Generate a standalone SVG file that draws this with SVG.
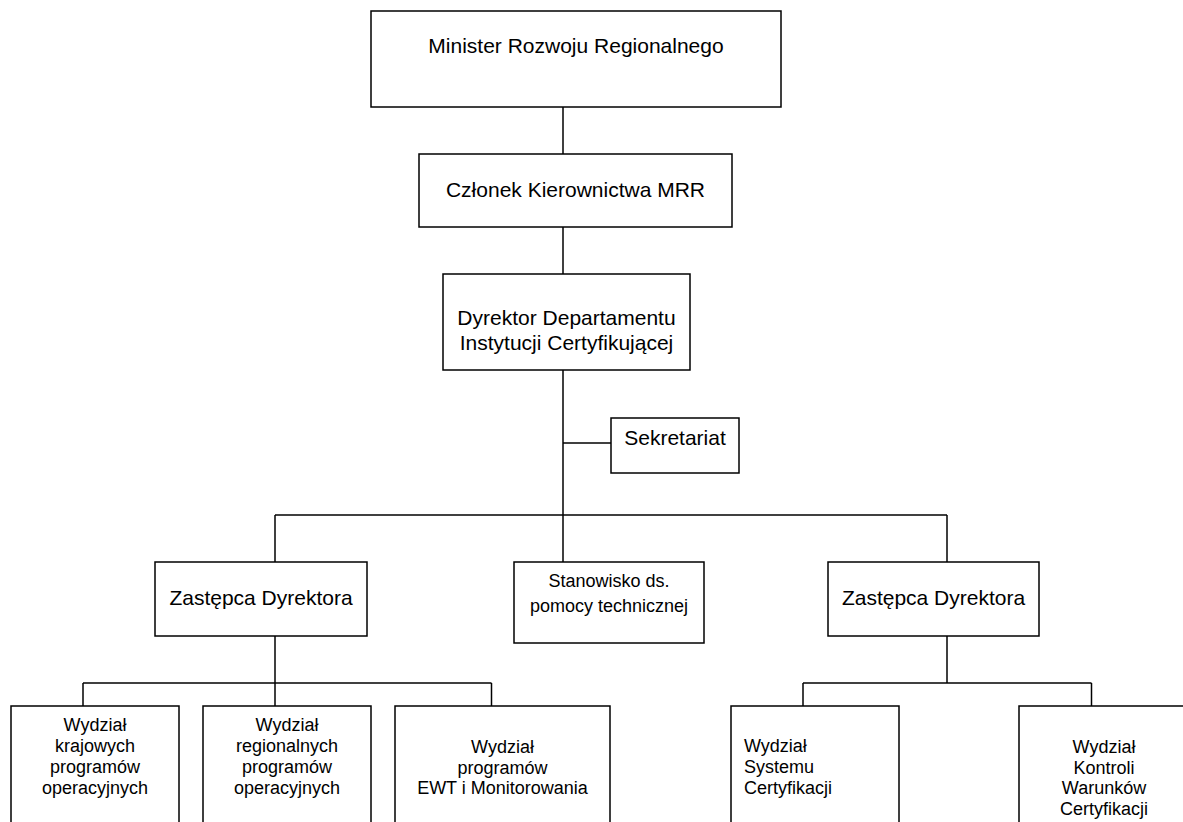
<svg xmlns="http://www.w3.org/2000/svg" width="1183" height="822" viewBox="0 0 1183 822">
<style>
.box{fill:#fff;stroke:#000;stroke-width:1.5}
.ln{fill:none;stroke:#000;stroke-width:1.5}
.t{font-family:"Liberation Sans",Arial,sans-serif;fill:#000;text-anchor:middle}
.big{font-size:21px}
.sm{font-size:18px}
</style>
<rect width="1183" height="822" fill="#fff"/>
<g id="connectors" class="ln">
<path d="M563,107V154"/>
<path d="M563,227V274"/>
<path d="M563,370V562"/>
<path d="M563,443H611"/>
<path d="M275,515H947"/>
<path d="M275,515V562"/>
<path d="M947,515V562"/>
<path d="M275,636V706"/>
<path d="M83,683H491.5"/>
<path d="M83,683V706"/>
<path d="M491.5,683V706"/>
<path d="M947,636V683"/>
<path d="M803,683H1091.5"/>
<path d="M803,683V706"/>
<path d="M1091.5,683V706"/>
</g>
<g id="minister">
<rect class="box" x="371" y="11" width="410" height="96"/>
<text class="t big" x="576" y="53">Minister Rozwoju Regionalnego</text>
</g>
<g id="czlonek">
<rect class="box" x="419" y="154" width="313" height="73"/>
<text class="t big" x="575.5" y="197">Członek Kierownictwa MRR</text>
</g>
<g id="dyrektor">
<rect class="box" x="443" y="274" width="247" height="96"/>
<text class="t big" x="566.5" y="325">Dyrektor Departamentu</text>
<text class="t big" x="566.5" y="350">Instytucji Certyfikującej</text>
</g>
<g id="sekretariat">
<rect class="box" x="611" y="418" width="128" height="55"/>
<text class="t big" x="675" y="445">Sekretariat</text>
</g>
<g id="zastepca-lewy">
<rect class="box" x="155" y="562" width="212" height="74"/>
<text class="t big" x="261" y="605">Zastępca Dyrektora</text>
</g>
<g id="stanowisko">
<rect class="box" x="514" y="562" width="190" height="81"/>
<text class="t sm" x="609" y="587">Stanowisko ds.</text>
<text class="t sm" x="609" y="612">pomocy technicznej</text>
</g>
<g id="zastepca-prawy">
<rect class="box" x="828" y="562" width="211" height="74"/>
<text class="t big" x="933.5" y="605">Zastępca Dyrektora</text>
</g>
<g id="wydzial-krajowych">
<rect class="box" x="11" y="706" width="168" height="130"/>
<text class="t sm" x="95" y="731">Wydział</text>
<text class="t sm" x="95" y="752">krajowych</text>
<text class="t sm" x="95" y="773">programów</text>
<text class="t sm" x="95" y="794">operacyjnych</text>
</g>
<g id="wydzial-regionalnych">
<rect class="box" x="203" y="706" width="168" height="130"/>
<text class="t sm" x="287" y="731">Wydział</text>
<text class="t sm" x="287" y="752">regionalnych</text>
<text class="t sm" x="287" y="773">programów</text>
<text class="t sm" x="287" y="794">operacyjnych</text>
</g>
<g id="wydzial-ewt">
<rect class="box" x="395" y="706" width="215" height="130"/>
<text class="t sm" x="502.5" y="753">Wydział</text>
<text class="t sm" x="502.5" y="773.5">programów</text>
<text class="t sm" x="502.5" y="794">EWT i Monitorowania</text>
</g>
<g id="wydzial-systemu">
<rect class="box" x="731" y="706" width="168" height="130"/>
<text class="t sm" x="744" y="752" style="text-anchor:start">Wydział</text>
<text class="t sm" x="744" y="773" style="text-anchor:start">Systemu</text>
<text class="t sm" x="744" y="794" style="text-anchor:start">Certyfikacji</text>
</g>
<g id="wydzial-kontroli">
<rect class="box" x="1019" y="706" width="180" height="130"/>
<text class="t sm" x="1104" y="753">Wydział</text>
<text class="t sm" x="1104" y="773.5">Kontroli</text>
<text class="t sm" x="1104" y="794">Warunków</text>
<text class="t sm" x="1104" y="815">Certyfikacji</text>
</g>
</svg>
